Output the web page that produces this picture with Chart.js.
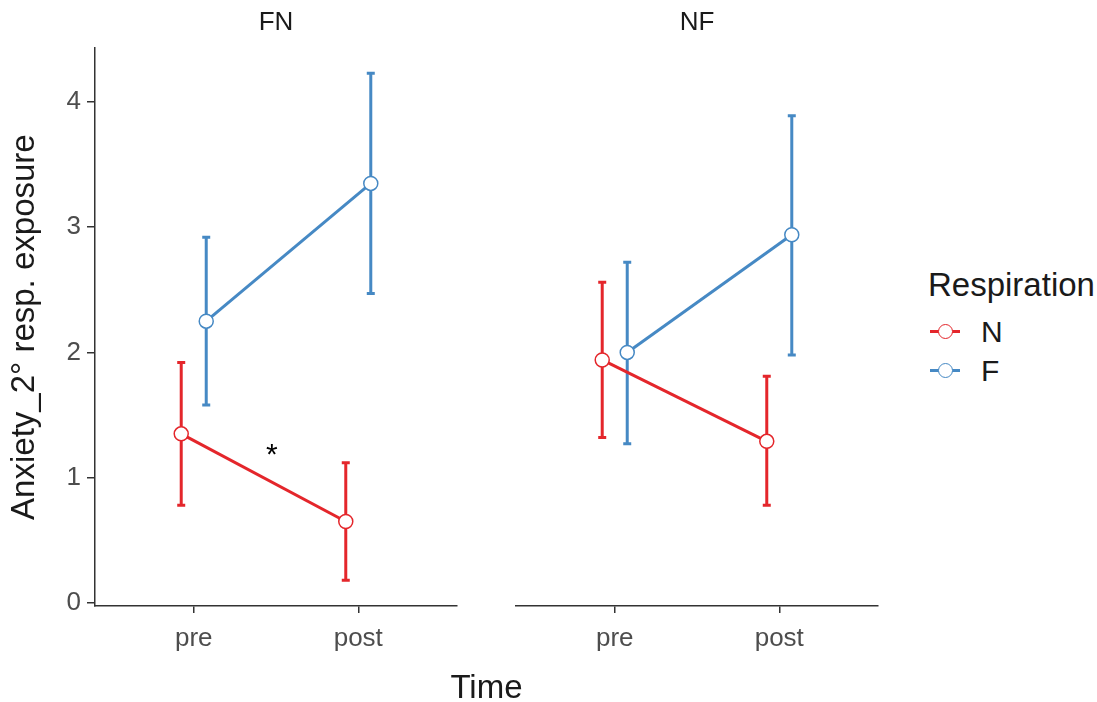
<!DOCTYPE html>
<html>
<head>
<meta charset="utf-8">
<script src="https://cdn.jsdelivr.net/npm/chart.js@4.4.0/dist/chart.umd.min.js"></script>
<style>
  body { margin: 0; background: #fff; font-family: "Liberation Sans", Arial, sans-serif; }
  #wrap { position: relative; width: 1097px; height: 702px; overflow: hidden; }
  .panel { position: absolute; top: 0; height: 702px; }
  #p1 { left: 0; width: 470px; }
  #p2 { left: 470px; width: 430px; }
  .txt { position: absolute; line-height: 1; white-space: nowrap; color: #1a1a1a; }
  #xtitle { left: 95px; width: 783px; top: 670px; font-size: 33px; text-align: center; }
  #ltitle { left: 928px; top: 268px; font-size: 33px; }
  .lrow { position: absolute; left: 930px; height: 30px; }
  .lkey { position: absolute; left: 0; top: 13px; width: 30px; height: 3px; }
  .ldot { position: absolute; left: 8px; top: -6px; width: 15px; height: 15px; border-radius: 50%;
          box-sizing: border-box; border: 1.5px solid; background: #fff; }
  .llab { position: absolute; left: 51px; top: 0; font-size: 30px; line-height: 1; color: #1a1a1a; }
</style>
</head>
<body>
<div id="wrap">
  <div class="panel" id="p1"><canvas id="fnChart"></canvas></div>
  <div class="panel" id="p2"><canvas id="nfChart"></canvas></div>
  <div class="txt" id="xtitle">Time</div>
  <div class="txt" id="ltitle">Respiration</div>
  <div id="legend"></div>
</div>
<script>
const timeLabels = ['pre', 'post'];
const groups = ['N', 'F'];
const groupColors = ['#E4262B', '#4689C4'];
const facets = ['FN', 'NF'];
const yTicks = [0, 1, 2, 3, 4];

// FN panel: means with lower / upper CI, [pre, post]
const fnMeanN = [1.35, 0.65];
const fnLowN = [0.78, 0.18];
const fnHighN = [1.92, 1.12];
const fnMeanF = [2.25, 3.35];
const fnLowF = [1.58, 2.47];
const fnHighF = [2.92, 4.23];

// NF panel
const nfMeanN = [1.94, 1.29];
const nfLowN = [1.32, 0.78];
const nfHighN = [2.56, 1.81];
const nfMeanF = [2.00, 2.94];
const nfLowF = [1.27, 1.98];
const nfHighF = [2.72, 3.89];

const dodge = 0.076;
const family = '"Liberation Sans", Arial, sans-serif';
const star = { x: 1.475, y: 1.24, text: '*' };

function makeSet(label, mean, low, high, color, shift) {
  return {
    label: label,
    data: mean.map((v, i) => ({ x: i + 1 + shift, y: v, lo: low[i], hi: high[i] })),
    borderColor: color, backgroundColor: '#fff',
    pointBorderColor: color, pointBackgroundColor: '#fff',
    borderWidth: 3, pointRadius: 7, pointHoverRadius: 7, pointBorderWidth: 1.5,
    tension: 0
  };
}

// vertical error bars with caps, drawn under lines and points
const errorBars = {
  id: 'errorBars',
  beforeDatasetsDraw(chart) {
    const { ctx, scales: { x, y } } = chart;
    chart.data.datasets.forEach(ds => {
      ctx.save();
      ctx.strokeStyle = ds.borderColor;
      ctx.lineWidth = 3;
      ds.data.forEach(p => {
        const px = x.getPixelForValue(p.x);
        const top = y.getPixelForValue(p.hi);
        const bot = y.getPixelForValue(p.lo);
        ctx.beginPath();
        ctx.moveTo(px, top); ctx.lineTo(px, bot);
        ctx.moveTo(px - 4, top); ctx.lineTo(px + 4, top);
        ctx.moveTo(px - 4, bot); ctx.lineTo(px + 4, bot);
        ctx.stroke();
      });
      ctx.restore();
    });
  }
};

const starMark = {
  id: 'starMark',
  afterDatasetsDraw(chart) {
    const { ctx, scales: { x, y } } = chart;
    ctx.save();
    ctx.fillStyle = '#000';
    ctx.font = '30px ' + family;
    ctx.textAlign = 'center';
    ctx.textBaseline = 'alphabetic';
    ctx.fillText(star.text, x.getPixelForValue(star.x), y.getPixelForValue(star.y) + 16);
    ctx.restore();
  }
};

function panelOptions(title, showY, padding) {
  return {
    responsive: true, maintainAspectRatio: false, animation: false, events: [],
    layout: { padding: padding },
    plugins: {
      legend: { display: false },
      tooltip: { enabled: false },
      title: { display: true, text: title, fullSize: false, color: '#1a1a1a',
               font: { size: 26, family: family, weight: 'normal' }, padding: { top: 7, bottom: 10 } }
    },
    scales: {
      x: {
        type: 'linear', min: 0.4, max: 2.6,
        afterBuildTicks: s => { s.ticks = timeLabels.map((_, i) => ({ value: i + 1 })); },
        afterFit: s => { s.height = 96; },
        grid: { display: true, drawOnChartArea: false, drawTicks: true, tickLength: 7, color: '#333', lineWidth: 1.5 },
        border: { display: true, color: '#333', width: 1.5 },
        ticks: { color: '#4d4d4d', font: { size: 26, family: family }, padding: 10, maxRotation: 0,
                 callback: v => timeLabels[Math.round(v) - 1] }
      },
      y: {
        display: showY, min: -0.025, max: 4.43,
        afterBuildTicks: s => { s.ticks = yTicks.map(v => ({ value: v })); },
        afterFit: s => { s.width = showY ? 95 : 0; },
        grid: { display: true, drawOnChartArea: false, drawTicks: true, tickLength: 8, color: '#333', lineWidth: 1.5 },
        border: { display: true, color: '#333', width: 1.5 },
        ticks: { color: '#4d4d4d', font: { size: 26, family: family }, padding: 6 },
        title: { display: true, text: 'Anxiety_2° resp. exposure', color: '#1a1a1a',
                 font: { size: 33, family: family }, padding: { top: 5 } }
      }
    }
  };
}

new Chart(document.getElementById('fnChart'), {
  type: 'line',
  data: { datasets: [
    makeSet(groups[0], fnMeanN, fnLowN, fnHighN, groupColors[0], -dodge),
    makeSet(groups[1], fnMeanF, fnLowF, fnHighF, groupColors[1], dodge)
  ] },
  options: panelOptions(facets[0], true, { top: 0, right: 13, left: 0, bottom: 0 }),
  plugins: [errorBars, starMark]
});

new Chart(document.getElementById('nfChart'), {
  type: 'line',
  data: { datasets: [
    makeSet(groups[0], nfMeanN, nfLowN, nfHighN, groupColors[0], -dodge),
    makeSet(groups[1], nfMeanF, nfLowF, nfHighF, groupColors[1], dodge)
  ] },
  options: panelOptions(facets[1], false, { top: 0, right: 22, left: 46, bottom: 0 }),
  plugins: [errorBars]
});

// legend keys: line with open circle
const legend = document.getElementById('legend');
const rowTops = [317, 356];
groups.forEach((g, i) => {
  const row = document.createElement('div');
  row.className = 'lrow';
  row.style.top = rowTops[i] + 'px';
  row.innerHTML = '<div class="lkey" style="background:' + groupColors[i] + '">' +
    '<div class="ldot" style="border-color:' + groupColors[i] + '"></div></div>' +
    '<div class="llab">' + g + '</div>';
  legend.appendChild(row);
});
</script>
</body>
</html>
